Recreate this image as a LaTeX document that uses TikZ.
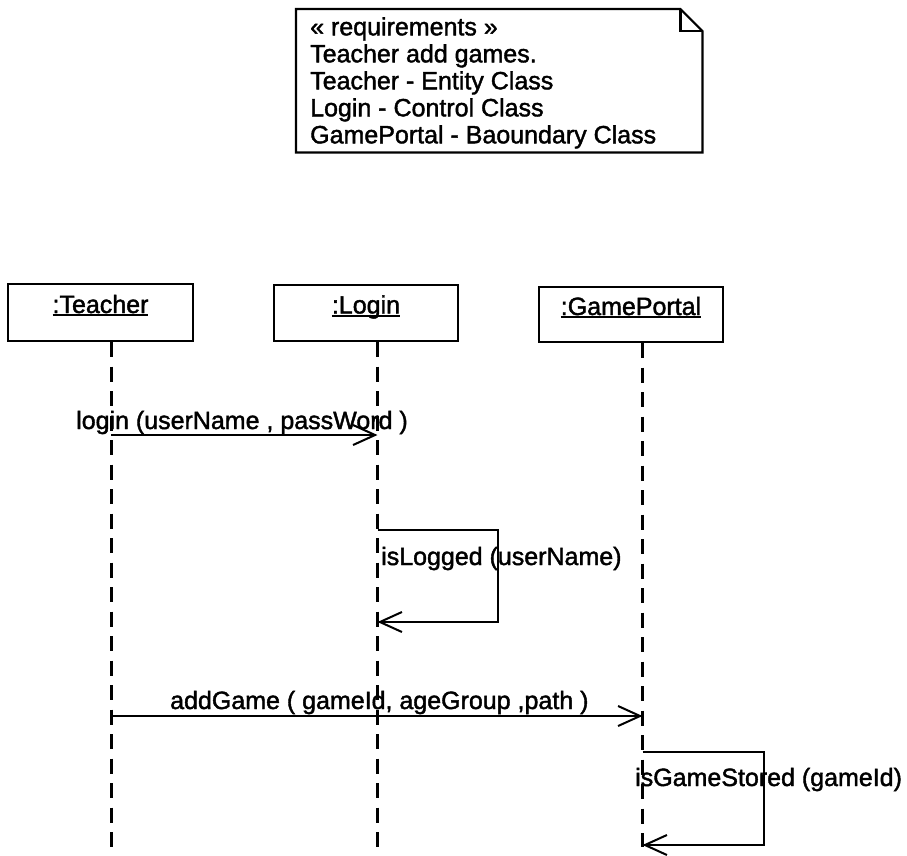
\documentclass[tikz,border=0pt]{standalone}
\usepackage{fontspec}
\setmainfont{Liberation Sans}[FakeBold=1.6]
\usetikzlibrary{arrows.meta}
% underline drawn at a fixed depth, so descenders do not push it down
\newcommand{\ulbox}[1]{\setbox0\hbox{#1}\rlap{\rule[-3pt]{\wd0}{1.8pt}}\box0}
\begin{document}
\begin{tikzpicture}[x=1pt,y=-1pt,
  txt/.style={font=\fontsize{25}{27}\selectfont, inner sep=0pt},
  actor/.style={draw, line width=2.4pt, minimum width=184pt, minimum height=56pt,
    inner sep=0pt, text height=18pt, text depth=17pt, font=\fontsize{25}{27}\selectfont},
  lifeline/.style={line width=3pt, dash pattern=on 15pt off 9.5pt},
  msg/.style={line width=2pt, -{Straight Barb[length=22pt,width=20pt]}},
  notebox/.style={line width=2.2pt, line join=miter}
]
\useasboundingbox (0,0) rectangle (907,855);

% requirements note with folded corner
\node[minimum width=406pt, minimum height=143pt, inner sep=0pt, anchor=north west] (note) at (296,9) {};
\draw[notebox] (note.north west) -- ([xshift=-22pt]note.north east)
  -- ([yshift=-22pt]note.north east) -- (note.south east) -- (note.south west) -- cycle;
\draw[notebox] ([xshift=-22pt]note.north east) -- ([xshift=-22pt,yshift=-22pt]note.north east)
  -- ([yshift=-22pt]note.north east);
\node[txt, align=left, anchor=north west] (notetext) at (310,17)
  {« requirements »\\Teacher add games.\\Teacher - Entity Class\\Login - Control Class\\GamePortal - Baoundary Class};

% objects
\node[actor, minimum width=185pt, minimum height=57pt] (teacher) at (100.5,312.5) {\ulbox{:Teacher}};
\node[actor] (login) at (366,313) {\ulbox{:Login}};
\node[actor, minimum height=55pt] (portal) at (631,314.5) {\ulbox{:GamePortal}};

% lifeline ends
\coordinate (tEnd) at (111,847);
\coordinate (lEnd) at (377.5,847);
\coordinate (pEnd) at (642.5,847);
\draw[lifeline] (teacher.south -| tEnd) -- (tEnd);
\draw[lifeline] (login.south -| lEnd) -- (lEnd);
\draw[lifeline] (portal.south -| pEnd) -- (pEnd);

% login message
\coordinate (m1a) at (111,435);
\coordinate (m1b) at (377.5,435);
\draw[msg] (m1a) -- (m1b);
\node[txt, anchor=base west] (m1lab) at (76,429) {login (userName , passWord )};

% isLogged self call
\coordinate (s1a) at (377.5,530);
\coordinate (s1c) at (498,622);
\coordinate (s1b) at (377.5,622);
\draw[msg] (s1a) -| (s1c) -- (s1b);
\node[txt, anchor=base west] (s1lab) at (381,565) {isLogged (userName)};

% addGame message
\coordinate (m2a) at (111,716);
\coordinate (m2b) at (642.5,716);
\draw[msg] (m2a) -- (m2b);
\node[txt, anchor=base west] (m2lab) at (170,709) {addGame ( gameId, ageGroup ,path )};

% isGameStored self call
\coordinate (s2a) at (642.5,752);
\coordinate (s2c) at (764,845);
\coordinate (s2b) at (642.5,845);
\draw[msg] (s2a) -| (s2c) -- (s2b);
\node[txt, anchor=base west] (s2lab) at (635,786) {isGameStored (gameId)};
\end{tikzpicture}
\end{document}
